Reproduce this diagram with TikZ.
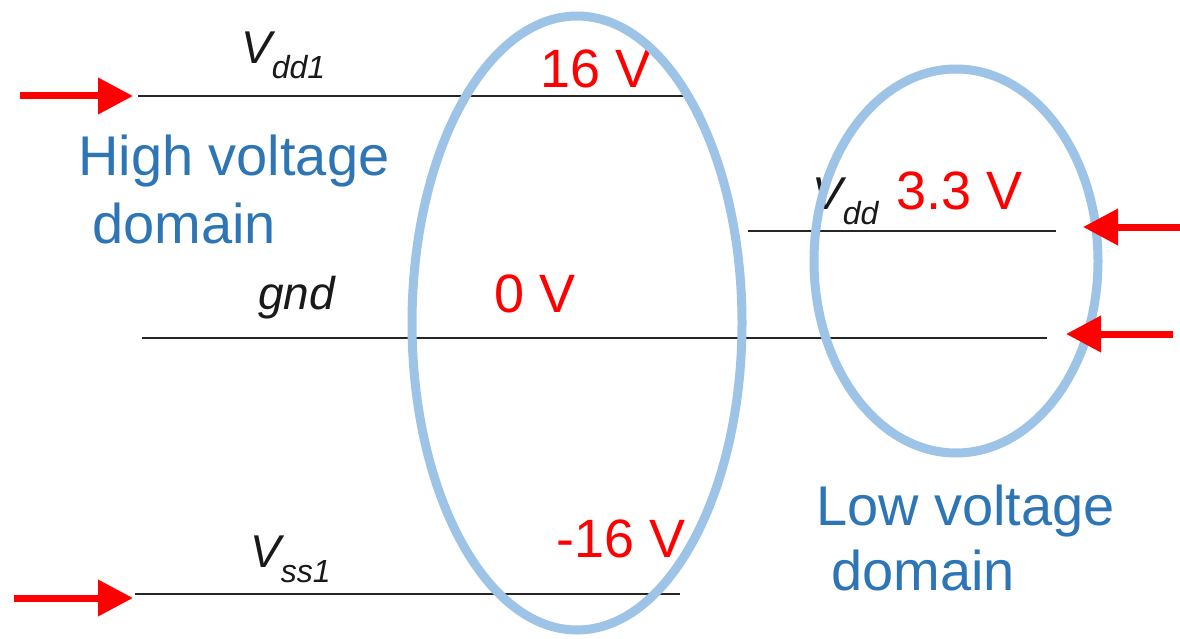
\documentclass[tikz,border=0pt]{standalone}
\usepackage{fontspec}
\setmainfont{Liberation Sans}
\usetikzlibrary{arrows.meta}
\definecolor{ellblue}{RGB}{157,195,230}
\definecolor{txtblue}{RGB}{46,117,182}
\definecolor{arrred}{RGB}{255,0,0}
\tikzset{
  railline/.style={draw=black!85, line width=1.8pt},
  domring/.style={draw=ellblue, line width=9pt},
  feedarrow/.style={draw=arrred, line width=7pt, -{Triangle[length=35pt,width=35pt]}},
  volttext/.style={text=arrred, font=\fontsize{54}{54}\selectfont, anchor=base west, inner sep=0pt},
  domtext/.style={text=txtblue, font=\fontsize{56}{56}\selectfont, anchor=base west, inner sep=0pt},
  sigtext/.style={text=black!90, font=\fontsize{46}{46}\selectfont\itshape, anchor=base west, inner sep=0pt}
}
\newcommand{\sigsub}[1]{{\fontsize{32}{32}\selectfont\raisebox{-15pt}{#1}}}
\begin{document}
\begin{tikzpicture}[x=1pt,y=-1pt]
\useasboundingbox (0,0) rectangle (1180,639);
% rails
\coordinate (vdd1L) at (138,96);  \coordinate (vdd1R) at (685,96);
\coordinate (vddL) at (748,231);  \coordinate (vddR) at (1056,231);
\coordinate (gndL) at (142,338);  \coordinate (gndR) at (1047,338);
\coordinate (vss1L) at (135,594); \coordinate (vss1R) at (680,594);
\draw[railline] (vdd1L) -- (vdd1R);
\draw[railline] (vddL) -- (vddR);
\draw[railline] (gndL) -- (gndR);
\draw[railline] (vss1L) -- (vss1R);
% signal labels
\node[sigtext] (lvdd1) at (241,64) {V\sigsub{dd1}};
\node[sigtext] (lgnd) at (258,309) {gnd};
\node[sigtext] (lvss1) at (250,567) {V\sigsub{ss1}};
\node[sigtext] (lvdd) at (812,209) {V\sigsub{dd}};
% voltages
\node[volttext] (v16) at (540,88) {16 V};
\node[volttext] (v0) at (494,312) {0 V};
\node[volttext] (v33) at (896,209) {3.3 V};
\node[volttext] (vm16) at (556,557) {-16 V};
% domain labels
\node[domtext] (hv1) at (78,176) {High voltage};
\node[domtext] (hv2) at (92,243) {domain};
\node[domtext] (lv1) at (816,525) {Low voltage};
\node[domtext] (lv2) at (831,590) {domain};
% ellipses
\draw[domring] (577,323) ellipse [x radius=165, y radius=307];
\draw[domring] (956,261) ellipse [x radius=142, y radius=192];
% feed arrows
\coordinate (a1s) at (20,96);   \coordinate (a1e) at (133,96);
\coordinate (a2s) at (14,598);  \coordinate (a2e) at (133,598);
\coordinate (a3s) at (1180,227); \coordinate (a3e) at (1083,227);
\coordinate (a4s) at (1173,334); \coordinate (a4e) at (1066,334);
\draw[feedarrow] (a1s) -- (a1e);
\draw[feedarrow] (a2s) -- (a2e);
\draw[feedarrow] (a3s) -- (a3e);
\draw[feedarrow] (a4s) -- (a4e);
\end{tikzpicture}
\end{document}
